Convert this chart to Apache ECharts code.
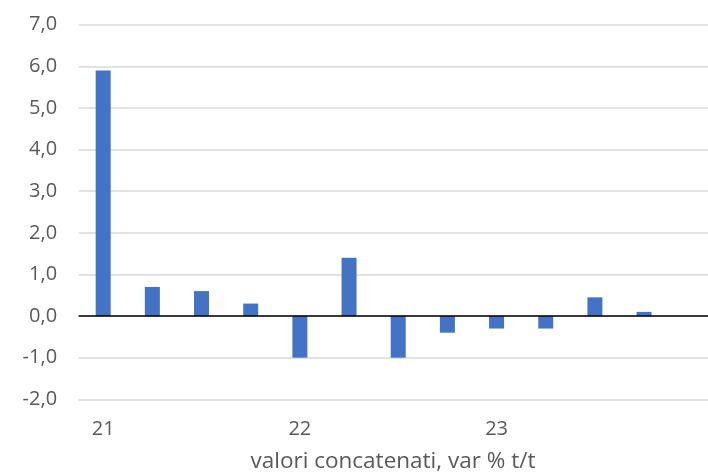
<!DOCTYPE html>
<html>
<head>
<meta charset="utf-8">
<script src="https://cdn.jsdelivr.net/npm/echarts@6/dist/echarts.min.js"></script>
<style>
  html, body { margin: 0; padding: 0; background: #ffffff; }
  #chart { width: 708px; height: 473px; }
</style>
</head>
<body>
<div id="chart"></div>
<script>
// Quarterly change, chained values (% q/q), 2021 Q1 – 2023 Q4
const quarters = ['21 T1', '21 T2', '21 T3', '21 T4',
                  '22 T1', '22 T2', '22 T3', '22 T4',
                  '23 T1', '23 T2', '23 T3', '23 T4'];
const growth = [5.9, 0.7, 0.6, 0.3, -1.0, 1.4, -1.0, -0.4, -0.3, -0.3, 0.45, 0.1];
const yearLabels = ['21', '22', '23'];
const yearTickIndex = [0, 4, 8];
const axisTitle = 'valori concatenati, var % t/t';

// bars sit on quarter positions 0..11 of a numeric x axis
const points = growth.map(function (v, i) { return [i, v]; });

const chart = echarts.init(document.getElementById('chart'), null, { renderer: 'canvas' });

const textColor = '#595959';
const fontFamily = '"Open Sans", "Liberation Sans", sans-serif';

chart.setOption({
  animation: false,
  backgroundColor: '#ffffff',
  title: {
    text: axisTitle,
    left: 388,
    top: 445,
    textAlign: 'center',
    textStyle: { color: textColor, fontSize: 22.5, fontWeight: 'normal', fontFamily: fontFamily }
  },
  grid: { left: 78.6, top: 24.7, right: 0, height: 374.6, containLabel: false },
  xAxis: {
    type: 'value',
    min: -0.5,
    max: 12.3,
    axisLine: { show: false, onZero: false },
    axisTick: { show: false },
    splitLine: { show: false },
    axisLabel: {
      customValues: yearTickIndex,
      margin: 20,
      color: textColor,
      fontSize: 20,
      fontFamily: fontFamily,
      formatter: function (value) {
        const k = yearTickIndex.indexOf(value);
        return k >= 0 ? yearLabels[k] : '';
      }
    }
  },
  yAxis: {
    type: 'value',
    min: -2,
    max: 7,
    interval: 1,
    axisLine: { show: false },
    axisTick: { show: false },
    splitLine: { show: true, lineStyle: { color: '#d9d9d9', width: 1.5 } },
    axisLabel: {
      margin: 21.5,
      color: textColor,
      fontSize: 20,
      fontFamily: fontFamily,
      formatter: function (v) { return v.toFixed(1).replace('.', ','); }
    }
  },
  series: [{
    type: 'bar',
    name: 'var % t/t',
    data: points,
    barWidth: 15,
    itemStyle: { color: '#4472C4' },
    markLine: {
      silent: true,
      symbol: 'none',
      label: { show: false },
      lineStyle: { color: '#000000', width: 1.6, type: 'solid' },
      data: [{ yAxis: 0 }]
    }
  }]
});
</script>
</body>
</html>
